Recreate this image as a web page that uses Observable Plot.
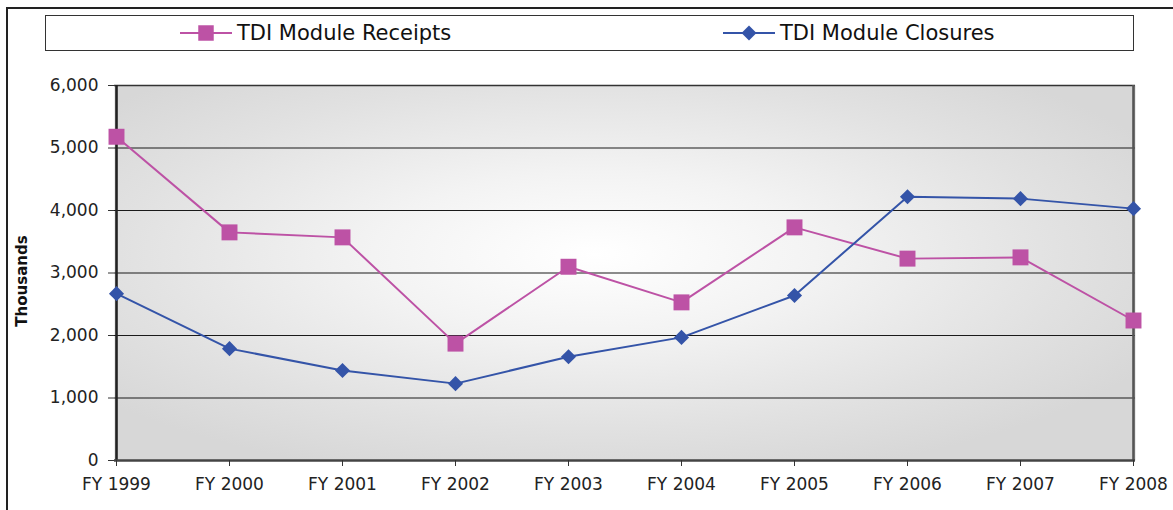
<!DOCTYPE html>
<html>
<head>
<meta charset="utf-8">
<script src="https://cdn.jsdelivr.net/npm/d3@7"></script>
<script src="https://cdn.jsdelivr.net/npm/@observablehq/plot@0.6"></script>
<style>
  html, body { margin: 0; padding: 0; background: #fff; }
  #page { position: relative; width: 1173px; height: 510px; overflow: hidden; font-family: "DejaVu Sans", sans-serif; }
  #outer { position: absolute; left: 6px; top: 7px; width: 1180px; height: 520px; border-left: 2px solid #222; border-top: 2px solid #222; box-sizing: border-box; }
  #legend { position: absolute; left: 45px; top: 15px; width: 1089px; height: 36px; border: 1px solid #333; box-sizing: border-box; background: #fff; }
  .item { position: absolute; top: 0; height: 34px; display: flex; align-items: center; font-size: 21px; color: #111; white-space: nowrap; }
  .item svg { margin-right: 5px; }
  #chart { position: absolute; left: 0; top: 55px; }
</style>
</head>
<body>
<div id="page">
  <div id="outer"></div>
  <div id="legend"></div>
  <div id="chart"></div>
</div>
<script>
const years = ["FY 1999", "FY 2000", "FY 2001", "FY 2002", "FY 2003", "FY 2004", "FY 2005", "FY 2006", "FY 2007", "FY 2008"];
const receipts = [5180, 3650, 3570, 1870, 3100, 2530, 3730, 3230, 3250, 2240];
const closures = [2670, 1790, 1440, 1230, 1660, 1970, 2640, 4220, 4190, 4030];
const yTicks = [0, 1000, 2000, 3000, 4000, 5000, 6000];
const seriesNames = ["TDI Module Receipts", "TDI Module Closures"];
const seriesColors = ["#bd52a5", "#3454a8"];

const rows = years.map((year, i) => ({year, receipts: receipts[i], closures: closures[i]}));

// Legend
const legendItems = [
  {label: seriesNames[0], color: seriesColors[0], symbol: d3.symbolSquare, size: 240, left: 134},
  {label: seriesNames[1], color: seriesColors[1], symbol: d3.symbolDiamond2, size: 144, left: 677}
];
const legend = d3.select("#legend");
for (const it of legendItems) {
  const div = legend.append("div").attr("class", "item").style("left", it.left + "px");
  const sw = div.append("svg").attr("width", 52).attr("height", 20);
  sw.append("line").attr("x1", 0).attr("x2", 52).attr("y1", 10).attr("y2", 10)
    .attr("stroke", it.color).attr("stroke-width", 2);
  sw.append("path").attr("transform", "translate(26,10)")
    .attr("d", d3.symbol(it.symbol, it.size)()).attr("fill", it.color);
  div.append("span").text(it.label);
}

const chart = Plot.plot({
  width: 1173,
  height: 455,
  marginTop: 30,
  marginBottom: 50,
  marginLeft: 114,
  marginRight: 38,
  style: {fontFamily: "DejaVu Sans, sans-serif", fontSize: "17px", color: "#222", background: "transparent", overflow: "visible"},
  x: {type: "point", domain: years, padding: 0},
  y: {domain: [0, 6000]},
  marks: [
    Plot.frame({fill: "url(#bggrad)", stroke: null}),
    Plot.ruleY(yTicks.slice(1, -1), {stroke: "#1a1a1a", strokeWidth: 1.2}),
    Plot.ruleY([yTicks[yTicks.length - 1]], {stroke: "#333", strokeWidth: 1.6}),
    Plot.ruleX([years[0]], {stroke: "#222", strokeWidth: 2.6}),
    Plot.ruleX([years[years.length - 1]], {stroke: "#555", strokeWidth: 2.6}),
    Plot.ruleY([0], {stroke: "#444", strokeWidth: 2.6}),
    Plot.axisY({ticks: yTicks, tickFormat: d3.format(","), tickSize: 6, tickPadding: 10, label: null, stroke: "#333"}),
    Plot.axisX({tickSize: 6, tickPadding: 11, label: null, stroke: "#333"}),
    Plot.text(["Thousands"], {frameAnchor: "left", textAnchor: "middle", rotate: -90, dx: -92, dy: 8, fontWeight: "bold", fontSize: 15, fill: "#111"}),
    Plot.line(rows, {x: "year", y: "receipts", stroke: seriesColors[0], strokeWidth: 2}),
    Plot.line(rows, {x: "year", y: "closures", stroke: seriesColors[1], strokeWidth: 2}),
    Plot.dot(rows, {x: "year", y: "receipts", symbol: "square", r: 9, fill: seriesColors[0], stroke: null}),
    Plot.dot(rows, {x: "year", y: "closures", symbol: "diamond2", r: 6.8, fill: seriesColors[1], stroke: null})
  ]
});

const svg = d3.select(chart);
const grad = svg.insert("defs", ":first-child").append("radialGradient")
  .attr("id", "bggrad").attr("cx", 0.47).attr("cy", 0.45).attr("r", 0.62);
grad.append("stop").attr("offset", 0).attr("stop-color", "#ffffff");
grad.append("stop").attr("offset", 0.35).attr("stop-color", "#f3f3f3");
grad.append("stop").attr("offset", 0.75).attr("stop-color", "#e1e1e1");
grad.append("stop").attr("offset", 1).attr("stop-color", "#d7d7d7");

document.getElementById("chart").appendChild(chart);
</script>
</body>
</html>
